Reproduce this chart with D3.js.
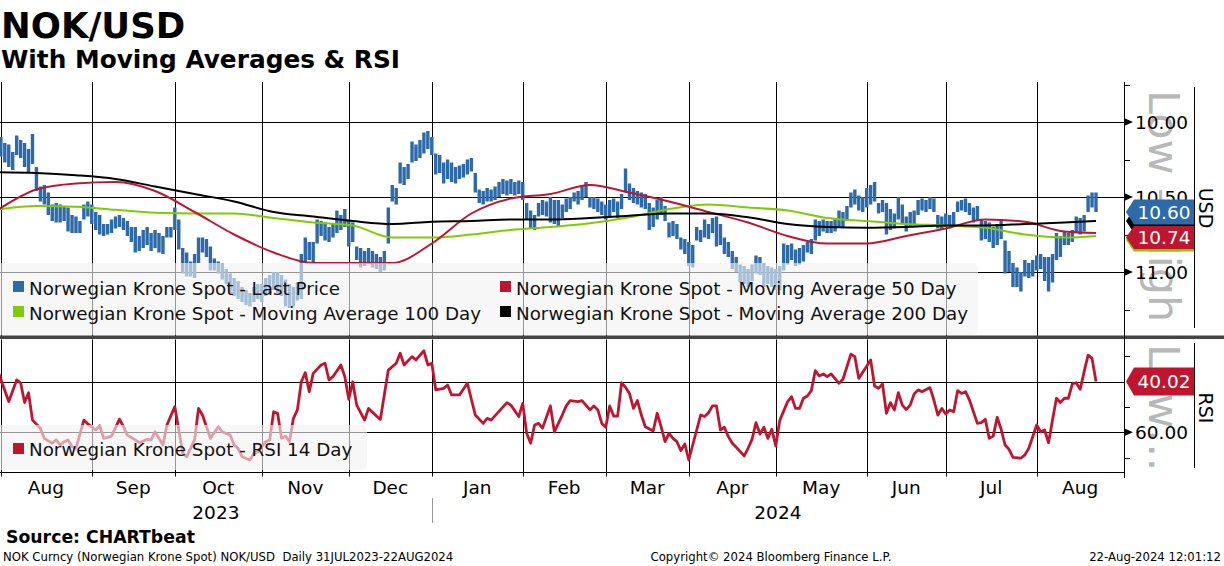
<!DOCTYPE html>
<html>
<head>
<meta charset="utf-8">
<script src="https://cdn.jsdelivr.net/npm/d3@7"></script>
<style>
  body { margin: 0; background: #fff; }
  svg { display: block; font-family: "DejaVu Sans", sans-serif; }
</style>
</head>
<body>
<svg id="chart" width="1224" height="566"></svg>
<script>
// ---- data (trading-day index 0 = 31 Jul 2023) ----
var barLow = [
  10.11,10.10,10.14,10.15,10.20,10.09,10.12,10.14,10.18,10.08,
  10.30,10.43,10.42,10.47,10.55,10.54,10.55,10.56,10.57,10.62,
  10.63,10.66,10.55,10.53,10.55,10.60,10.62,10.68,10.68,10.65,
  10.63,10.62,10.64,10.66,10.70,10.70,10.76,10.72,10.70,10.74,
  10.72,10.74,10.76,10.70,10.70,10.57,10.65,10.84,10.87,10.93,
  10.88,10.77,10.77,10.78,10.83,10.91,10.93,10.94,10.98,11.01,
  11.04,11.06,11.10,11.12,11.14,11.10,11.08,11.08,11.04,11.02,
  11.00,11.00,11.02,11.05,11.08,11.10,11.07,10.88,10.77,10.80,
  10.80,10.65,10.66,10.67,10.70,10.68,10.59,10.62,10.58,10.65,
  10.67,10.83,10.84,10.86,10.84,10.86,10.88,10.90,10.86,10.57,
  10.42,10.44,10.27,10.30,10.28,10.13,10.15,10.12,10.07,10.06,
  10.10,10.21,10.22,10.27,10.25,10.27,10.30,10.29,10.28,10.25,
  10.24,10.34,10.45,10.46,10.44,10.45,10.43,10.40,10.38,10.39,
  10.38,10.40,10.39,10.40,10.54,10.59,10.62,10.54,10.52,10.53,
  10.50,10.52,10.52,10.55,10.51,10.50,10.47,10.46,10.42,10.40,
  10.50,10.50,10.51,10.53,10.55,10.52,10.51,10.53,10.48,10.31,
  10.41,10.44,10.46,10.47,10.48,10.54,10.57,10.52,10.50,10.56,
  10.67,10.66,10.68,10.77,10.78,10.80,10.82,10.70,10.72,10.65,
  10.68,10.64,10.63,10.68,10.77,10.80,10.86,10.90,10.95,10.96,
  10.98,10.95,10.89,10.90,10.94,10.96,10.97,10.98,10.96,10.81,
  10.82,10.81,10.85,10.84,10.82,10.80,10.78,10.65,10.66,10.65,
  10.66,10.66,10.64,10.59,10.60,10.56,10.47,10.45,10.49,10.50,
  10.44,10.42,10.40,10.54,10.52,10.54,10.58,10.61,10.50,10.55,
  10.63,10.60,10.59,10.52,10.51,10.52,10.50,10.51,10.62,10.63,
  10.61,10.62,10.60,10.53,10.52,10.51,10.54,10.57,10.56,10.65,
  10.66,10.67,10.70,10.68,10.66,10.79,10.86,10.94,10.97,11.00,
  10.92,10.94,10.92,10.89,10.88,10.90,10.90,10.88,10.74,10.76,
  10.73,10.74,10.72,10.63,10.64,10.62,10.49,10.47,10.47
];
var barHigh = [
  10.24,10.23,10.27,10.30,10.32,10.22,10.24,10.30,10.34,10.28,
  10.46,10.53,10.55,10.62,10.66,10.67,10.67,10.66,10.73,10.74,
  10.74,10.74,10.65,10.63,10.68,10.72,10.75,10.76,10.75,10.74,
  10.71,10.70,10.72,10.76,10.80,10.87,10.86,10.84,10.82,10.86,
  10.84,10.87,10.88,10.77,10.77,10.72,10.85,11.01,11.03,11.03,
  11.04,10.94,10.87,10.90,10.99,10.99,11.01,11.05,11.08,11.14,
  11.16,11.18,11.20,11.22,11.23,11.20,11.18,11.20,11.16,11.14,
  11.12,11.14,11.16,11.23,11.24,11.23,11.19,11.18,10.94,10.92,
  10.94,10.81,10.76,10.79,10.80,10.77,10.74,10.72,10.70,10.83,
  10.80,10.92,10.97,10.96,10.94,10.97,10.98,11.00,10.99,10.81,
  10.53,10.55,10.41,10.42,10.38,10.27,10.26,10.24,10.21,10.18,
  10.22,10.35,10.34,10.41,10.38,10.40,10.41,10.38,10.37,10.35,
  10.33,10.47,10.54,10.55,10.53,10.53,10.52,10.50,10.48,10.49,
  10.48,10.49,10.48,10.52,10.65,10.71,10.72,10.63,10.62,10.63,
  10.67,10.68,10.70,10.64,10.60,10.58,10.53,10.55,10.52,10.50,
  10.57,10.58,10.60,10.62,10.65,10.64,10.60,10.64,10.58,10.47,
  10.52,10.54,10.55,10.57,10.58,10.72,10.70,10.65,10.62,10.66,
  10.77,10.76,10.78,10.85,10.88,10.96,10.97,10.79,10.80,10.77,
  10.78,10.74,10.83,10.82,10.88,10.90,10.98,11.00,11.07,11.08,
  11.10,11.06,11.01,11.02,11.10,11.08,11.10,11.12,11.12,10.99,
  10.95,10.92,10.96,10.95,10.93,10.87,10.88,10.79,10.76,10.73,
  10.74,10.74,10.73,10.70,10.70,10.66,10.57,10.55,10.59,10.60,
  10.57,10.55,10.53,10.61,10.60,10.75,10.72,10.71,10.65,10.68,
  10.73,10.70,10.69,10.62,10.59,10.60,10.58,10.60,10.71,10.72,
  10.70,10.71,10.70,10.60,10.59,10.60,10.62,10.67,10.66,10.79,
  10.78,10.80,10.84,10.82,10.78,11.01,11.00,11.10,11.10,11.13,
  11.03,11.04,11.03,10.99,10.98,11.06,11.13,11.07,10.92,10.90,
  10.82,10.82,10.80,10.74,10.75,10.73,10.60,10.57,10.60
];

// moving averages, read every 10 trading days
var maDays = [0,10,20,30,40,50,60,70,80,90,100,110,120,130,140,150,160,170,180,190,200,210,220,230,240,250,260,270,278];
var ma50  = [10.59,10.45,10.41,10.40,10.46,10.60,10.75,10.87,10.94,10.94,10.94,10.81,10.61,10.51,10.48,10.42,10.47,10.53,10.60,10.67,10.76,10.81,10.81,10.76,10.71,10.65,10.665,10.73,10.74];
var ma100 = [10.585,10.56,10.565,10.585,10.605,10.61,10.61,10.64,10.67,10.69,10.77,10.77,10.75,10.72,10.70,10.675,10.635,10.58,10.55,10.57,10.59,10.64,10.66,10.68,10.69,10.705,10.75,10.77,10.76];
var ma200 = [10.335,10.34,10.355,10.38,10.43,10.48,10.53,10.60,10.63,10.66,10.68,10.665,10.66,10.65,10.65,10.64,10.625,10.61,10.61,10.635,10.68,10.70,10.705,10.70,10.69,10.69,10.68,10.67,10.66];

// RSI 14 day, turning points of the line
var rsiDay = [0,3,5,6,7,8,9,11,12,14,15,16,17,18,19,20,22,23,25,26,27,28,29,31,32,33,35,36,38,39,
  40,41,42,43,45,46,47,48,50,51,52,54,56,57,59,60,61,62,64,65,66,68,69,70,71,72,73,74,75,76,
  77,78,79,80,82,83,84,85,87,88,89,90,91,93,94,96,97,99,101,102,103,105,106,108,109,110,111,113,114,115,
  117,119,121,123,124,125,129,130,132,133,134,135,136,137,138,140,141,143,144,145,147,148,150,151,152,153,154,155,156,157,
  158,159,160,161,162,163,164,166,167,168,169,170,171,172,173,174,175,177,178,179,180,181,182,183,184,185,186,187,189,190,
  191,192,193,194,195,196,197,198,200,201,202,203,204,205,206,207,208,209,210,211,213,214,215,216,217,218,221,222,223,224,
  225,226,227,228,229,230,231,232,233,234,236,237,238,239,240,241,242,243,244,245,246,248,249,250,251,252,253,254,255,256,
  257,259,260,261,263,264,265,266,267,268,269,270,271,272,273,274,275,276,277,278];
var rsiValue = [34.8,47.9,39.4,40.5,48.3,44.4,55.2,58.4,62.4,64.3,63.0,65.0,63.7,63.0,65.7,66.3,55.2,56.7,59.1,57.4,62.4,62.0,61.5,54.8,57.8,61.1,63.0,64.1,62.8,63.0,
  59.8,62.4,65.0,57.1,49.9,59.1,68.3,69.6,63.0,50.6,53.2,62.4,57.8,59.8,61.1,65.0,66.3,69.6,70.9,68.3,67.6,63.7,63.0,51.9,52.5,62.4,61.5,63.7,54.5,51.2,
  40.1,36.5,44.0,36.8,33.5,32.8,39.4,38.1,33.5,38.1,47.0,40.1,49.3,55.2,50.6,53.6,54.9,35.5,32.8,28.9,33.5,30.2,31.5,27.9,33.5,32.8,43.3,42.7,41.4,45.3,
  45.3,40.7,53.2,56.5,54.5,55.2,48.3,49.3,53.8,48.6,60.4,64.3,57.1,56.5,58.4,49.6,59.8,53.2,49.6,47.5,47.9,47.5,51.2,49.6,51.2,56.5,58.0,49.6,53.6,53.6,
  40.5,42.3,44.7,50.6,47.5,53.2,57.8,59.5,52.5,57.8,63.7,60.4,62.4,63.7,67.2,64.6,70.9,59.1,53.2,53.8,52.3,49.6,49.6,59.1,58.0,61.7,64.3,65.9,69.3,66.3,
  62.8,56.2,60.7,58.0,62.4,58.8,65.4,55.4,47.9,46.0,50.6,50.6,46.6,45.7,43.6,35.7,37.8,37.0,38.1,37.0,40.7,39.1,34.2,29.2,30.2,38.8,31.5,41.8,42.7,41.0,
  52.5,48.3,51.2,44.4,49.3,51.0,49.3,44.9,43.3,44.0,42.4,47.3,53.2,50.6,52.8,51.2,51.9,43.6,44.7,44.0,47.3,56.5,56.2,54.9,62.4,61.5,54.1,58.8,65.0,66.7,
  69.9,70.2,68.9,66.3,57.1,59.8,59.1,64.1,55.2,46.6,48.3,46.6,46.6,41.0,40.5,43.1,36.1,29.6,30.9,40.02];

var priceTicks = [10.00, 10.50, 11.00];
var priceMinor = [9.75, 10.25, 10.75, 11.25];
var rsiTicks = [60.00];
var rsiMinor = [30, 50, 70];
var monthLabels = ["Aug","Sep","Oct","Nov","Dec","Jan","Feb","Mar","Apr","May","Jun","Jul","Aug"];
var yearLabels = ["2023", "2024"];
var lastPrice = 10.60, lastMa50 = 10.74, lastMa100 = 10.76, lastMa200 = 10.66, lastRsi = 40.02;

var legendNames = ["Norwegian Krone Spot - Last Price", "Norwegian Krone Spot - Moving Average 50 Day",
                   "Norwegian Krone Spot - Moving Average 100 Day", "Norwegian Krone Spot - Moving Average 200 Day"];

// ---- layout ----
var axisX = 1124;
var priceTop = 82, priceBottom = 336, rsiTop = 339.5, rsiBottom = 472.5;
var blue = "#2d6aaa", red = "#c0152f", green = "#7fcc00";

var svg = d3.select("#chart");

// weekdays from 31 Jul 2023 (index space of the x scale)
var days = [];
for (var d = new Date(2023, 6, 31); days.length < 290; d.setDate(d.getDate() + 1)) {
  if (d.getDay() !== 0 && d.getDay() !== 6) days.push(new Date(d));
}
var monthStarts = [];
var yearStart = 0;
for (var i = 1; i < days.length; i++) {
  if (days[i].getMonth() !== days[i - 1].getMonth()) {
    monthStarts.push(i);
    if (days[i].getMonth() === 0) yearStart = i;
  }
}

var x = d3.scaleLinear().domain([0, 278]).range([-3.1, 1096]);
var yP = d3.scaleLinear().domain([10, 11]).range([122, 272]);
var yR = d3.scaleLinear().domain([40, 60]).range([381.5, 432.3]);

var defs = svg.append("defs");
defs.append("clipPath").attr("id", "clipP").append("rect")
  .attr("x", 0).attr("y", priceTop).attr("width", axisX).attr("height", priceBottom - priceTop);
defs.append("clipPath").attr("id", "clipR").append("rect")
  .attr("x", 0).attr("y", rsiTop).attr("width", axisX).attr("height", rsiBottom - rsiTop);

// titles
svg.append("text").attr("x", 1).attr("y", 38).attr("font-size", 35.5).attr("font-weight", "bold").text("NOK/USD");
svg.append("text").attr("x", 1).attr("y", 68).attr("font-size", 24.8).attr("font-weight", "bold").text("With Moving Averages & RSI");

// watermark at right
svg.append("text").attr("transform", "translate(1149,90) rotate(90)")
  .attr("font-size", 43).attr("fill", "#b8b8b8").text("Low \u2013 High");
svg.append("text").attr("transform", "translate(1149,344) rotate(90)")
  .attr("font-size", 43).attr("fill", "#b8b8b8").text("Low\u2026");

// ---- grids ----
var grid = svg.append("g").attr("stroke", "#000").attr("stroke-width", 1);
monthStarts.forEach(function (m) {
  var gx = Math.round(x(m)) + 0.5;
  if (gx >= axisX) return;
  grid.append("line").attr("x1", gx).attr("x2", gx).attr("y1", priceTop).attr("y2", priceBottom);
  grid.append("line").attr("x1", gx).attr("x2", gx).attr("y1", rsiTop).attr("y2", rsiBottom + 4);
});
priceTicks.forEach(function (t) {
  var gy = Math.round(yP(t)) + 0.5;
  grid.append("line").attr("x1", 0).attr("x2", axisX).attr("y1", gy).attr("y2", gy);
});
[40, 60].forEach(function (t) {
  var gy = Math.round(yR(t)) + 0.5;
  grid.append("line").attr("x1", 0).attr("x2", axisX).attr("y1", gy).attr("y2", gy);
});
grid.append("line").attr("x1", 0).attr("x2", axisX).attr("y1", rsiBottom).attr("y2", rsiBottom);

// ---- price panel ----
var pg = svg.append("g").attr("clip-path", "url(#clipP)");
pg.selectAll(".bar").data(barLow).enter().append("rect")
  .attr("class", "bar")
  .attr("x", function (v, i) { return x(i) - 1.7; })
  .attr("width", 3.4)
  .attr("y", function (v) { return yP(v); })
  .attr("height", function (v, i) { return Math.max(2, yP(barHigh[i]) - yP(v)); })
  .attr("fill", blue);

function maLine(vals) {
  return d3.line().curve(d3.curveMonotoneX)
    .x(function (v, i) { return x(maDays[i]); })
    .y(function (v) { return yP(v); })(vals);
}
pg.append("path").attr("d", maLine(ma100)).attr("fill", "none").attr("stroke", green).attr("stroke-width", 2);
pg.append("path").attr("d", maLine(ma50)).attr("fill", "none").attr("stroke", red).attr("stroke-width", 2);
pg.append("path").attr("d", maLine(ma200)).attr("fill", "none").attr("stroke", "#000").attr("stroke-width", 2);

// price legend
svg.append("rect").attr("x", -6).attr("y", 263).attr("width", 984).attr("height", 72).attr("rx", 5)
  .attr("fill", "#f2f2f2").attr("fill-opacity", 0.62);
var legColors = [blue, red, green, "#000"];
var legPos = [[13, 281], [500, 281], [13, 306], [500, 306]];
legendNames.forEach(function (name, k) {
  svg.append("rect").attr("x", legPos[k][0]).attr("y", legPos[k][1]).attr("width", 11).attr("height", 11).attr("fill", legColors[k]);
  svg.append("text").attr("x", legPos[k][0] + 16).attr("y", legPos[k][1] + 14).attr("font-size", 18.3)
    .attr("fill", "#111").text(name);
});

// ---- RSI panel ----
var rg = svg.append("g").attr("clip-path", "url(#clipR)");
rg.append("path")
  .attr("d", d3.line().x(function (v, i) { return x(rsiDay[i]); }).y(function (v) { return yR(v); })(rsiValue))
  .attr("fill", "none").attr("stroke", red).attr("stroke-width", 2.8).attr("stroke-linejoin", "round");

svg.append("rect").attr("x", -6).attr("y", 425).attr("width", 373).attr("height", 45).attr("rx", 5)
  .attr("fill", "#f2f2f2").attr("fill-opacity", 0.62);
svg.append("rect").attr("x", 13).attr("y", 443).attr("width", 11).attr("height", 11).attr("fill", red);
svg.append("text").attr("x", 29).attr("y", 456).attr("font-size", 18.3).attr("fill", "#111")
  .text("Norwegian Krone Spot - RSI 14 Day");

// panel separator
svg.append("rect").attr("x", 0).attr("y", 335.5).attr("width", 1224).attr("height", 3.5).attr("fill", "#444");

// ---- right axis ----
var ax = svg.append("g");
ax.append("line").attr("x1", axisX + 0.5).attr("x2", axisX + 0.5).attr("y1", priceTop).attr("y2", 478).attr("stroke", "#000");
ax.append("line").attr("x1", 1194.5).attr("x2", 1194.5).attr("y1", 87).attr("y2", 328).attr("stroke", "#000");
ax.append("line").attr("x1", 1194.5).attr("x2", 1194.5).attr("y1", 343).attr("y2", 468).attr("stroke", "#000");
priceMinor.map(yP).concat(rsiMinor.map(yR)).forEach(function (ty) {
  ax.append("line").attr("x1", axisX).attr("x2", axisX + 6).attr("y1", Math.round(ty) + 0.5).attr("y2", Math.round(ty) + 0.5).attr("stroke", "#000");
});
function majorTick(ty, label) {
  ax.append("path").attr("d", "M" + axisX + "," + (ty - 4) + "L" + (axisX + 9) + "," + ty + "L" + axisX + "," + (ty + 4) + "Z").attr("fill", "#000");
  ax.append("text").attr("x", 1135).attr("y", ty).attr("dy", "0.36em").attr("font-size", 18.5).text(label);
}
priceTicks.forEach(function (t) { majorTick(yP(t), d3.format(".2f")(t)); });
rsiTicks.forEach(function (t) { majorTick(yR(t), d3.format(".2f")(t)); });

svg.append("text").attr("transform", "translate(1199,208) rotate(90)").attr("text-anchor", "middle").attr("font-size", 19).text("USD");
svg.append("text").attr("transform", "translate(1199,408) rotate(90)").attr("text-anchor", "middle").attr("font-size", 19).text("RSI");

// value tags
function tag(cy, h, color, label) {
  var t = cy - h / 2, b = cy + h / 2;
  svg.append("path").attr("d", "M1126," + cy + "L1134," + t + "L1194," + t + "L1194," + b + "L1134," + b + "Z")
    .attr("fill", color);
  if (label) svg.append("text").attr("x", 1164).attr("y", cy).attr("dy", "0.36em").attr("text-anchor", "middle")
    .attr("font-size", 18.5).attr("fill", "#fff").text(label);
}
var fmt = d3.format(".2f");
var blueY = yP(lastPrice), blueH = 25;
var redH = 23;
var redY = Math.max(yP(lastMa50), blueY + blueH / 2 + 1.5 + redH / 2);
tag(yP(lastMa200), 24, "#000", null);
tag(redY + 2.5, redH, green, null);
tag(blueY, blueH, blue, fmt(lastPrice));
tag(redY, redH, red, fmt(lastMa50));
tag(yR(lastRsi), 28, red, fmt(lastRsi));

// ---- x axis labels ----
var xa = svg.append("g").attr("font-size", 18.5).attr("text-anchor", "middle");
monthLabels.forEach(function (m, k) {
  var left = k === 0 ? 0 : x(monthStarts[k]);
  var right = x(monthStarts[k + 1]);
  xa.append("text").attr("x", (left + right) / 2).attr("y", 494).text(m);
});
xa.append("text").attr("x", (0 + x(yearStart)) / 2).attr("y", 519).text(yearLabels[0]);
xa.append("text").attr("x", (x(yearStart) + axisX) / 2).attr("y", 519).text(yearLabels[1]);
svg.append("line").attr("x1", Math.round(x(yearStart)) + 0.5).attr("x2", Math.round(x(yearStart)) + 0.5)
  .attr("y1", 498).attr("y2", 523).attr("stroke", "#999");

// ---- footer ----
svg.append("text").attr("x", 6).attr("y", 543).attr("font-size", 17.3).attr("font-weight", "bold").text("Source: CHARTbeat");
svg.append("text").attr("x", 3).attr("y", 561).attr("font-size", 11.7).style("white-space", "pre")
  .text("NOK Curncy (Norwegian Krone Spot) NOK/USD  Daily 31JUL2023-22AUG2024");
svg.append("text").attr("x", 771).attr("y", 561).attr("font-size", 11.7).attr("text-anchor", "middle")
  .text("Copyright\u00a9 2024 Bloomberg Finance L.P.");
svg.append("text").attr("x", 1221).attr("y", 561).attr("font-size", 11.7).attr("text-anchor", "end")
  .text("22-Aug-2024 12:01:12");
</script>
</body>
</html>
